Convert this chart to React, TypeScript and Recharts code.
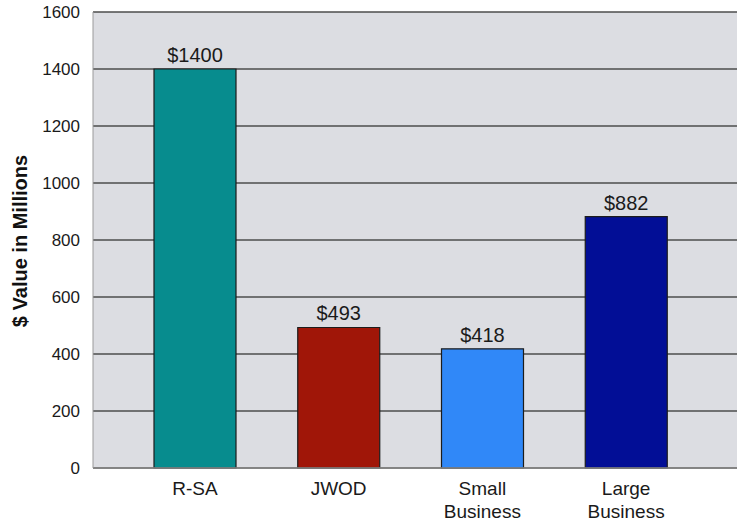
import React from 'react';
import { BarChart, Bar, XAxis, YAxis, CartesianGrid, Cell, LabelList } from 'recharts';

const categories = ['R-SA', 'JWOD', 'Small Business', 'Large Business'];
const values = [1400, 493, 418, 882];
const barColors = ['#078C8E', '#A01608', '#3088F8', '#020E96'];
const yTicks = [0, 200, 400, 600, 800, 1000, 1200, 1400, 1600];

const data = categories.map((name, i) => ({ name, value: values[i] }));

const FONT = '"Liberation Sans", Arial, sans-serif';

// x 축 라벨 (두 줄 처리)
const CategoryTick = (props: any) => {
  const { x, y, payload } = props;
  const words = String(payload.value).split(' ');
  return (
    <text x={x} y={y} textAnchor='middle' fontFamily={FONT} fontSize={19} fill='#1a1a1a'>
      {words.map((w, i) => (
        <tspan key={i} x={x} dy={i === 0 ? 25 : 23}>
          {w}
        </tspan>
      ))}
    </text>
  );
};

const YTitle = () => (
  <text
    x={27}
    y={241}
    transform='rotate(-90 27 241)'
    textAnchor='middle'
    fontFamily={FONT}
    fontSize={20}
    fontWeight='bold'
    fill='#111'
  >
    $ Value in Millions
  </text>
);

export default function App() {
  return (
    <div style={{ position: 'absolute', left: 0, top: 0, width: 740, height: 523, background: '#fff' }}>
      <BarChart
        width={740}
        height={523}
        data={data}
        margin={{ top: 12, right: 3, bottom: 0, left: 0 }}
      >
        <CartesianGrid vertical={false} stroke='#4c4c4c' strokeWidth={1.3} fill='#DCDDE2' />
        <XAxis
          dataKey='name'
          height={55}
          padding={{ left: 30, right: 39 }}
          tick={<CategoryTick />}
          tickLine={false}
          tickSize={0}
          axisLine={{ stroke: '#8a8a8a', strokeWidth: 1.5 }}
          interval={0}
        />
        <YAxis
          width={93}
          domain={[0, 1600]}
          ticks={yTicks}
          tickLine={false}
          tickSize={8}
          tickMargin={5}
          axisLine={{ stroke: '#9a9a9a' }}
          tick={{ fontFamily: FONT, fontSize: 17, fill: '#1a1a1a' }}
          label={<YTitle />}
        />
        <YAxis
          yAxisId='right'
          orientation='right'
          width={0}
          domain={[0, 1600]}
          tick={false}
          tickLine={false}
          axisLine={{ stroke: '#b0b0b0', strokeWidth: 1.5 }}
        />
        <Bar dataKey='value' barSize={82} stroke='#1c1c1c' strokeWidth={1.2} isAnimationActive={false}>
          {data.map((entry, index) => (
            <Cell key={`cell-${index}`} fill={barColors[index]} />
          ))}
          <LabelList
            dataKey='value'
            position='top'
            offset={7}
            formatter={(v: any) => `$${v}`}
            style={{ fontFamily: FONT, fontSize: 20, fill: '#1a1a1a' }}
          />
        </Bar>
      </BarChart>
    </div>
  );
}
